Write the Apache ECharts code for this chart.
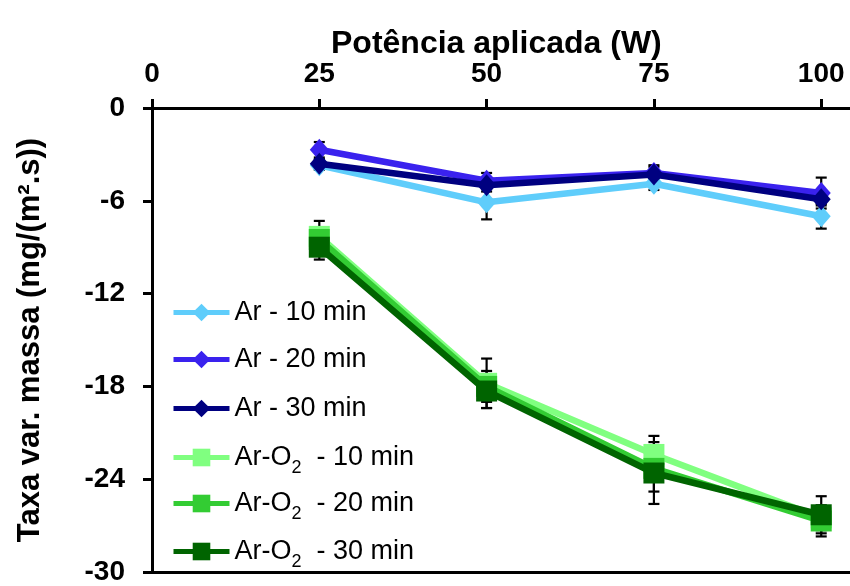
<!DOCTYPE html>
<html><head><meta charset="utf-8">
<script src="https://cdn.jsdelivr.net/npm/echarts@6/dist/echarts.min.js"></script>
<style>html,body{margin:0;padding:0;background:#fff}#c{width:850px;height:586px}</style>
</head><body><div id="c"></div>
<script>
const powers = [25, 50, 75, 100];
const xTicks = [0, 25, 50, 75, 100];
const xTitle = 'Potência aplicada (W)';
const yTitle = 'Taxa var. massa (mg/(m².s))';
const names = ['Ar - 10 min', 'Ar - 20 min', 'Ar - 30 min', 'Ar-O2  - 10 min', 'Ar-O2  - 20 min', 'Ar-O2  - 30 min'];
const ar10 = [-3.7, -6.1, -4.9, -7.0];
const ar20 = [-2.7, -4.7, -4.2, -5.5];
const ar30 = [-3.6, -5.0, -4.3, -5.9];
const aro10 = [-8.3, -17.8, -22.4, -26.5];
const aro20 = [-8.5, -18.0, -23.3, -26.7];
const aro30 = [-9.0, -18.3, -23.6, -26.3];
const ar10Err = [0.3, 1.1, 0.4, 0.8];
const ar20Err = [0.5, 0.5, 0.4, 1.0];
const ar30Err = [0.3, 0.4, 0.6, 0.4];
const aro10Err = [1.0, 1.6, 1.2, 0.8];
const aro20Err = [0.7, 1.0, 1.5, 1.0];
const aro30Err = [0.8, 1.1, 2.0, 1.2];

const values = [ar10, ar20, ar30, aro10, aro20, aro30];
const errors = [ar10Err, ar20Err, ar30Err, aro10Err, aro20Err, aro30Err];
const colors = ['#5fcdfb', '#3a22ee', '#000080', '#80ff80', '#33cc33', '#006400'];
const symbols = ['diamond', 'diamond', 'diamond', 'rect', 'rect', 'rect'];
const symSizes = [[19, 22], [19, 22], [19, 22], 21, 21, 21];
const legendTops = [294, 341, 390, 439, 485, 533];

const FONT = '"Liberation Sans", Arial, sans-serif';
const chart = echarts.init(document.getElementById('c'), null, {renderer: 'canvas'});

const series = [];
values.forEach((vals, i) => {
  series.push({
    type: 'custom',
    name: 'err' + i,
    z: 1,
    silent: true,
    encode: {x: 0, y: 1},
    data: vals.map((v, k) => [powers[k], v, errors[i][k]]),
    renderItem: function (params, api) {
      const x = api.value(0), y = api.value(1), e = api.value(2);
      const t = api.coord([x, y + e]);
      const b = api.coord([x, y - e]);
      const h = 5.5;
      const st = {stroke: '#000', lineWidth: 2.2};
      return {type: 'group', children: [
        {type: 'line', shape: {x1: t[0], y1: t[1], x2: b[0], y2: b[1]}, style: st},
        {type: 'line', shape: {x1: t[0] - h, y1: t[1], x2: t[0] + h, y2: t[1]}, style: st},
        {type: 'line', shape: {x1: b[0] - h, y1: b[1], x2: b[0] + h, y2: b[1]}, style: st}
      ]};
    }
  });
});
values.forEach((vals, i) => {
  series.push({
    type: 'line',
    name: names[i],
    z: 2 + i,
    data: vals.map((v, k) => [powers[k], v]),
    symbol: symbols[i],
    symbolSize: symSizes[i],
    showAllSymbol: true,
    lineStyle: {color: colors[i], width: 6.5},
    itemStyle: {color: colors[i]},
    emphasis: {disabled: true},
    animation: false
  });
});

const legends = names.map((n, i) => ({
  data: [n],
  orient: 'vertical',
  left: 166,
  top: legendTops[i],
  itemWidth: 56,
  itemHeight: 22,
  itemGap: 0,
  selectedMode: false,
  lineStyle: {width: 5},
  formatter: function (name) { return name.replace('O2', 'O{sub|2}'); },
  textStyle: {
    fontFamily: FONT, fontSize: 27, color: '#000',
    rich: {sub: {fontFamily: FONT, fontSize: 18, color: '#000', padding: [22, 0, 0, 0]}}
  }
}));

chart.setOption({
  animation: false,
  backgroundColor: '#fff',
  title: {
    text: xTitle,
    left: 331,
    top: 28,
    padding: 0,
    textStyle: {fontFamily: FONT, fontSize: 32, fontWeight: 'bold', color: '#000'}
  },
  grid: {left: 152, right: 0, top: 108, bottom: 11, containLabel: false},
  legend: legends,
  xAxis: [{
    type: 'value',
    position: 'top',
    min: 0,
    max: 104.3,
    interval: 25,
    axisLine: {show: true, onZero: false, lineStyle: {color: '#000', width: 3}},
    axisTick: {show: true, length: 9, lineStyle: {color: '#000', width: 3}, customValues: xTicks},
    axisLabel: {margin: 20, fontFamily: FONT, fontSize: 28, fontWeight: 'bold', color: '#000', customValues: xTicks},
    splitLine: {show: false}
  }, {
    type: 'value',
    position: 'bottom',
    min: 0,
    max: 104.3,
    axisLine: {show: true, onZero: false, lineStyle: {color: '#000', width: 3}},
    axisTick: {show: false},
    axisLabel: {show: false},
    splitLine: {show: false}
  }],
  yAxis: {
    type: 'value',
    min: -30,
    max: 0,
    interval: 6,
    name: yTitle,
    nameLocation: 'middle',
    nameRotate: 90,
    nameGap: 106,
    nameTextStyle: {fontFamily: FONT, fontSize: 31, fontWeight: 'bold', color: '#000'},
    axisLine: {show: true, onZero: false, lineStyle: {color: '#000', width: 3}},
    axisTick: {show: true, length: 9, lineStyle: {color: '#000', width: 3}},
    axisLabel: {margin: 27, fontFamily: FONT, fontSize: 28, fontWeight: 'bold', color: '#000'},
    splitLine: {show: false}
  },
  series: series
});
</script>
</body></html>
